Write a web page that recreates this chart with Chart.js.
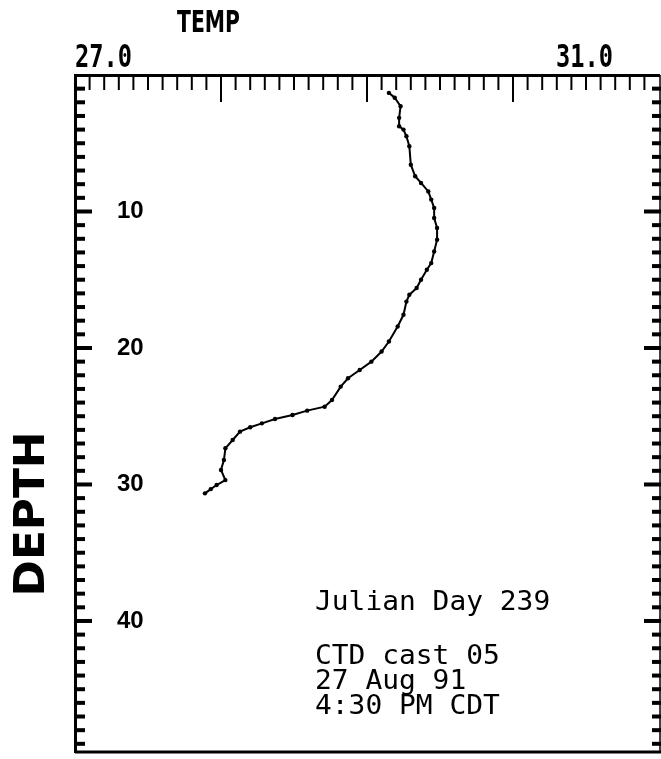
<!DOCTYPE html>
<html>
<head>
<meta charset="utf-8">
<script src="https://cdn.jsdelivr.net/npm/chart.js@4.4.1/dist/chart.umd.min.js"></script>
<style>
  html, body { margin: 0; padding: 0; background: #fff; }
</style>
</head>
<body>
<canvas id="myChart" width="661" height="759"></canvas>
<script>
(() => {
  'use strict';
  // CTD cast 05 profile: depth (m) and temperature (deg C)
  const depth = [1.31, 1.67, 2.29, 3.14, 3.76, 4.00, 4.49, 5.22, 6.57, 7.42, 7.91, 8.53,
    9.13, 9.74, 10.48, 11.21, 12.07, 12.93, 13.78, 14.27, 15.00, 15.61, 16.10, 16.60,
    17.57, 18.43, 19.53, 20.26, 21.00, 21.61, 22.22, 22.83, 23.81, 24.30, 24.59, 24.91,
    25.20, 25.52, 25.81, 26.13, 26.74, 27.35, 28.21, 28.94, 29.68, 30.04, 30.34, 30.65];
  const temp = [29.15, 29.19, 29.23, 29.22, 29.22, 29.25, 29.27, 29.29, 29.30, 29.33, 29.37, 29.42,
    29.44, 29.46, 29.46, 29.48, 29.48, 29.46, 29.44, 29.41, 29.37, 29.34, 29.29, 29.27,
    29.25, 29.21, 29.15, 29.10, 29.03, 28.95, 28.87, 28.82, 28.76, 28.71, 28.59, 28.49,
    28.37, 28.28, 28.20, 28.13, 28.08, 28.03, 28.02, 28.00, 28.03, 27.97, 27.93, 27.89];
  const tempLabels = ['27.0', '31.0'];
  const depthTicks = [10, 20, 30, 40];
  const depthMax = 49.6; // the box stops a little short of 50 m
  const notes = ['Julian Day 239', 'CTD cast 05', '27 Aug 91', '4:30 PM CDT'];

  // squeeze a string into a given width (old plotter lettering is narrow)
  const fitText = (ctx, str, font, x, y, w, angle) => {
    ctx.font = font;
    const m = ctx.measureText(str).width;
    ctx.save();
    ctx.translate(x, y);
    if (angle) ctx.rotate(angle);
    ctx.scale(w / m, 1);
    ctx.fillText(str, 0, 0);
    ctx.restore();
  };

  const frame = {
    id: 'frame',
    afterDraw(chart) {
      const {ctx, chartArea: a, scales: {x, y}} = chart;
      const line = (x1, y1, x2, y2) => {
        ctx.beginPath(); ctx.moveTo(x1, y1); ctx.lineTo(x2, y2); ctx.stroke();
      };
      ctx.save();
      ctx.strokeStyle = '#000';
      ctx.fillStyle = '#000';

      // top ticks every 0.1 deg, inward
      ctx.lineWidth = 2;
      for (let i = 1; i < 40; i++) {
        const px = x.getPixelForValue(27 + i / 10);
        line(px, a.top, px, a.top + (i % 10 === 0 ? 27 : 15));
      }
      // depth ticks every metre on both sides
      ctx.lineWidth = 4;
      for (let d = 1; d < depthMax; d++) {
        const py = y.getPixelForValue(d);
        const major = d % 10 === 0;
        line(a.left, py, a.left + (major ? 17 : 10), py);
        line(a.right + 2, py, a.right + 2 - (major ? 17 : 9), py);
      }
      // bottom and right edge
      ctx.lineWidth = 3;
      line(a.left, a.bottom, a.right + 2, a.bottom);
      ctx.lineWidth = 1.5;
      line(a.right + 1, a.top, a.right + 1, a.bottom);

      // axis lettering
      ctx.textBaseline = 'alphabetic';
      ctx.textAlign = 'left';
      fitText(ctx, 'TEMP', 'bold 30px "DejaVu Sans"', 177, 32, 63);
      fitText(ctx, tempLabels[0], 'bold 32px "DejaVu Sans Mono"', x.getPixelForValue(27), 67, 57);
      fitText(ctx, tempLabels[1], 'bold 32px "DejaVu Sans Mono"', 556, 67, 57);
      ctx.textAlign = 'center';
      fitText(ctx, 'DEPTH', 'bold 42px "DejaVu Sans"', 44, 514, 165, -Math.PI / 2);

      // cast notes, 16.8 px per character
      ctx.textAlign = 'left';
      const noteY = [610, 664, 689, 714];
      notes.forEach((t, i) => fitText(ctx, t, '27px "DejaVu Sans Mono"', 315, noteY[i], t.length * 16.8));
      ctx.restore();
    }
  };

  const ctx = document.getElementById('myChart');
  // eslint-disable-next-line no-unused-vars
  const myChart = new Chart(ctx, {
    type: 'scatter',
    data: {
      datasets: [{
        label: 'TEMP',
        data: temp.map((t, i) => ({x: t, y: depth[i]})),
        showLine: true,
        borderColor: '#000',
        backgroundColor: '#000',
        borderWidth: 2,
        pointRadius: 2.2,
        pointBorderWidth: 0
      }]
    },
    options: {
      responsive: false,
      animation: false,
      layout: {autoPadding: false, padding: {left: 75, top: 75, right: 2, bottom: 7}},
      plugins: {legend: {display: false}, tooltip: {enabled: false}},
      scales: {
        x: {
          type: 'linear',
          position: 'top',
          min: 27,
          max: 31,
          grid: {drawOnChartArea: false, drawTicks: false},
          border: {display: true, color: '#000', width: 3},
          ticks: {display: false},
          afterFit: s => { s.height = 0; }
        },
        y: {
          type: 'linear',
          reverse: true,
          min: 0,
          max: depthMax,
          afterBuildTicks: s => { s.ticks = depthTicks.map(v => ({value: v})); },
          grid: {drawOnChartArea: false, drawTicks: false},
          border: {display: true, color: '#000', width: 3},
          ticks: {
            mirror: true,
            padding: 42,
            color: '#000',
            font: {family: 'Liberation Sans', size: 24, weight: 'bold'}
          },
          // mirrored labels sit inside the box, so the axis takes no room
          afterFit: s => { s.width = 0; s.paddingTop = 0; s.paddingBottom = 0; }
        }
      }
    },
    plugins: [frame]
  });
})();
</script>
</body>
</html>
